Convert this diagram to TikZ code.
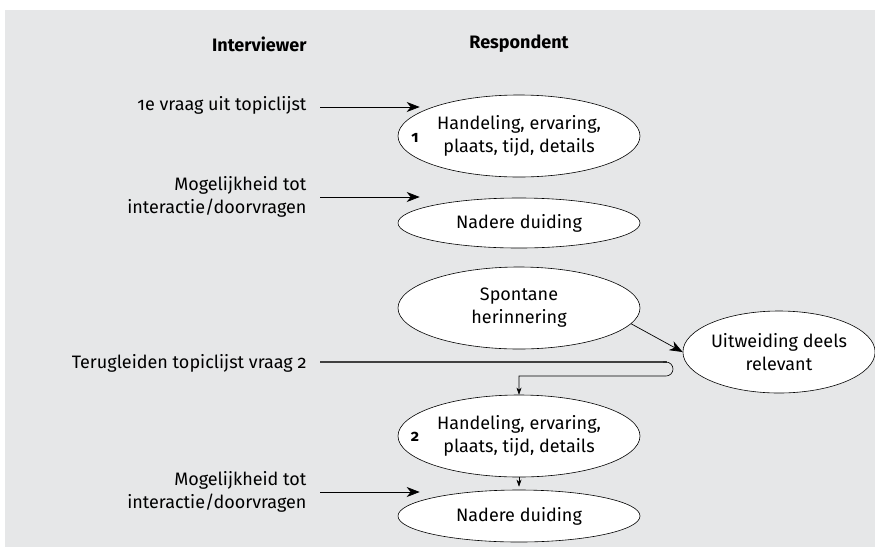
\documentclass[tikz,border=0pt]{standalone}
\usepackage{fontspec}
\setmainfont{Fira Sans}[Numbers=OldStyle]
\usetikzlibrary{arrows.meta,shapes.geometric}
\definecolor{panelgrey}{RGB}{230,231,232}
\begin{document}
\begin{tikzpicture}[x=1pt,y=-1pt,
  font=\fontsize{18}{23}\selectfont,
  bubble/.style={draw,ellipse,fill=white,line width=0.6pt,align=center,inner sep=0pt,minimum width=242pt,minimum height=82pt},
  flatbubble/.style={bubble,minimum height=50pt},
  cue/.style={anchor=east,align=right},
  head/.style={font=\fontsize{18}{23}\selectfont\bfseries},
  stepno/.style={font=\fontsize{16}{20}\selectfont\bfseries},
  bigarrow/.style={-{Stealth[length=13pt,width=10pt,inset=4pt]},line width=0.7pt},
  smallarrow/.style={-{Stealth[length=7pt,width=5pt,inset=2pt]},line width=0.6pt}]
\useasboundingbox (0,0) rectangle (875,547);
\fill[panelgrey] (5,10) rectangle (875,547);
% column heads
\node[head,anchor=east] (ivw) at (310,44) {Interviewer};
\node[head] (resp) at (519,44) {Respondent};
% first question
\node[cue] (q1) at (310,105) {1e vraag uit topiclijst};
\node[bubble] (e1) at (519,136) {Handeling, ervaring,\\plaats, tijd, details};
\node[stepno] (n1) at (415,138) {1};
\draw[bigarrow] ([shift={(10,2)}]q1.east) -- ([shift={(22,2)}]q1.east -| e1.west);
\node[cue] (int1) at (310,197) {Mogelijkheid tot\\interactie/doorvragen};
\node[flatbubble] (e2) at (519,223) {Nadere duiding};
\draw[bigarrow] ([xshift=10]int1.east) -- ([xshift=22]int1.east -| e2.west);
% side track
\node[bubble] (spont) at (519,308) {Spontane\\herinnering};
\node[bubble,minimum width=186pt] (uitw) at (779,352) {Uitweiding deels\\relevant};
\draw[bigarrow] (spont.-8) -- (uitw.west);
% back to the list
\node[cue] (q2) at (310,363) {Terugleiden topiclijst vraag 2};
\node[bubble] (e3) at (519,436) {Handeling, ervaring,\\plaats, tijd, details};
\node[stepno] (n2) at (415,437) {2};
\coordinate (hooktop) at (673,362);
\coordinate (hookbot) at (673,376);
\draw[line width=1.1pt,black!75] ([shift={(10,-1)}]q2.east) -- ([xshift=-6]hooktop);
\draw[smallarrow,rounded corners=7pt] ([xshift=-10]hooktop) -- (hooktop) -- (hookbot) [sharp corners] -- (hookbot -| e3.north) -- (e3.north);
\node[cue] (int2) at (310,492) {Mogelijkheid tot\\interactie/doorvragen};
\node[bubble,minimum height=52pt] (e4) at (519,516) {Nadere duiding};
\draw[smallarrow] (e3.south) -- ([yshift=3]e4.north);
\draw[bigarrow] ([xshift=10]int2.east) -- ([xshift=22]int2.east -| e4.west);
\end{tikzpicture}
\end{document}
